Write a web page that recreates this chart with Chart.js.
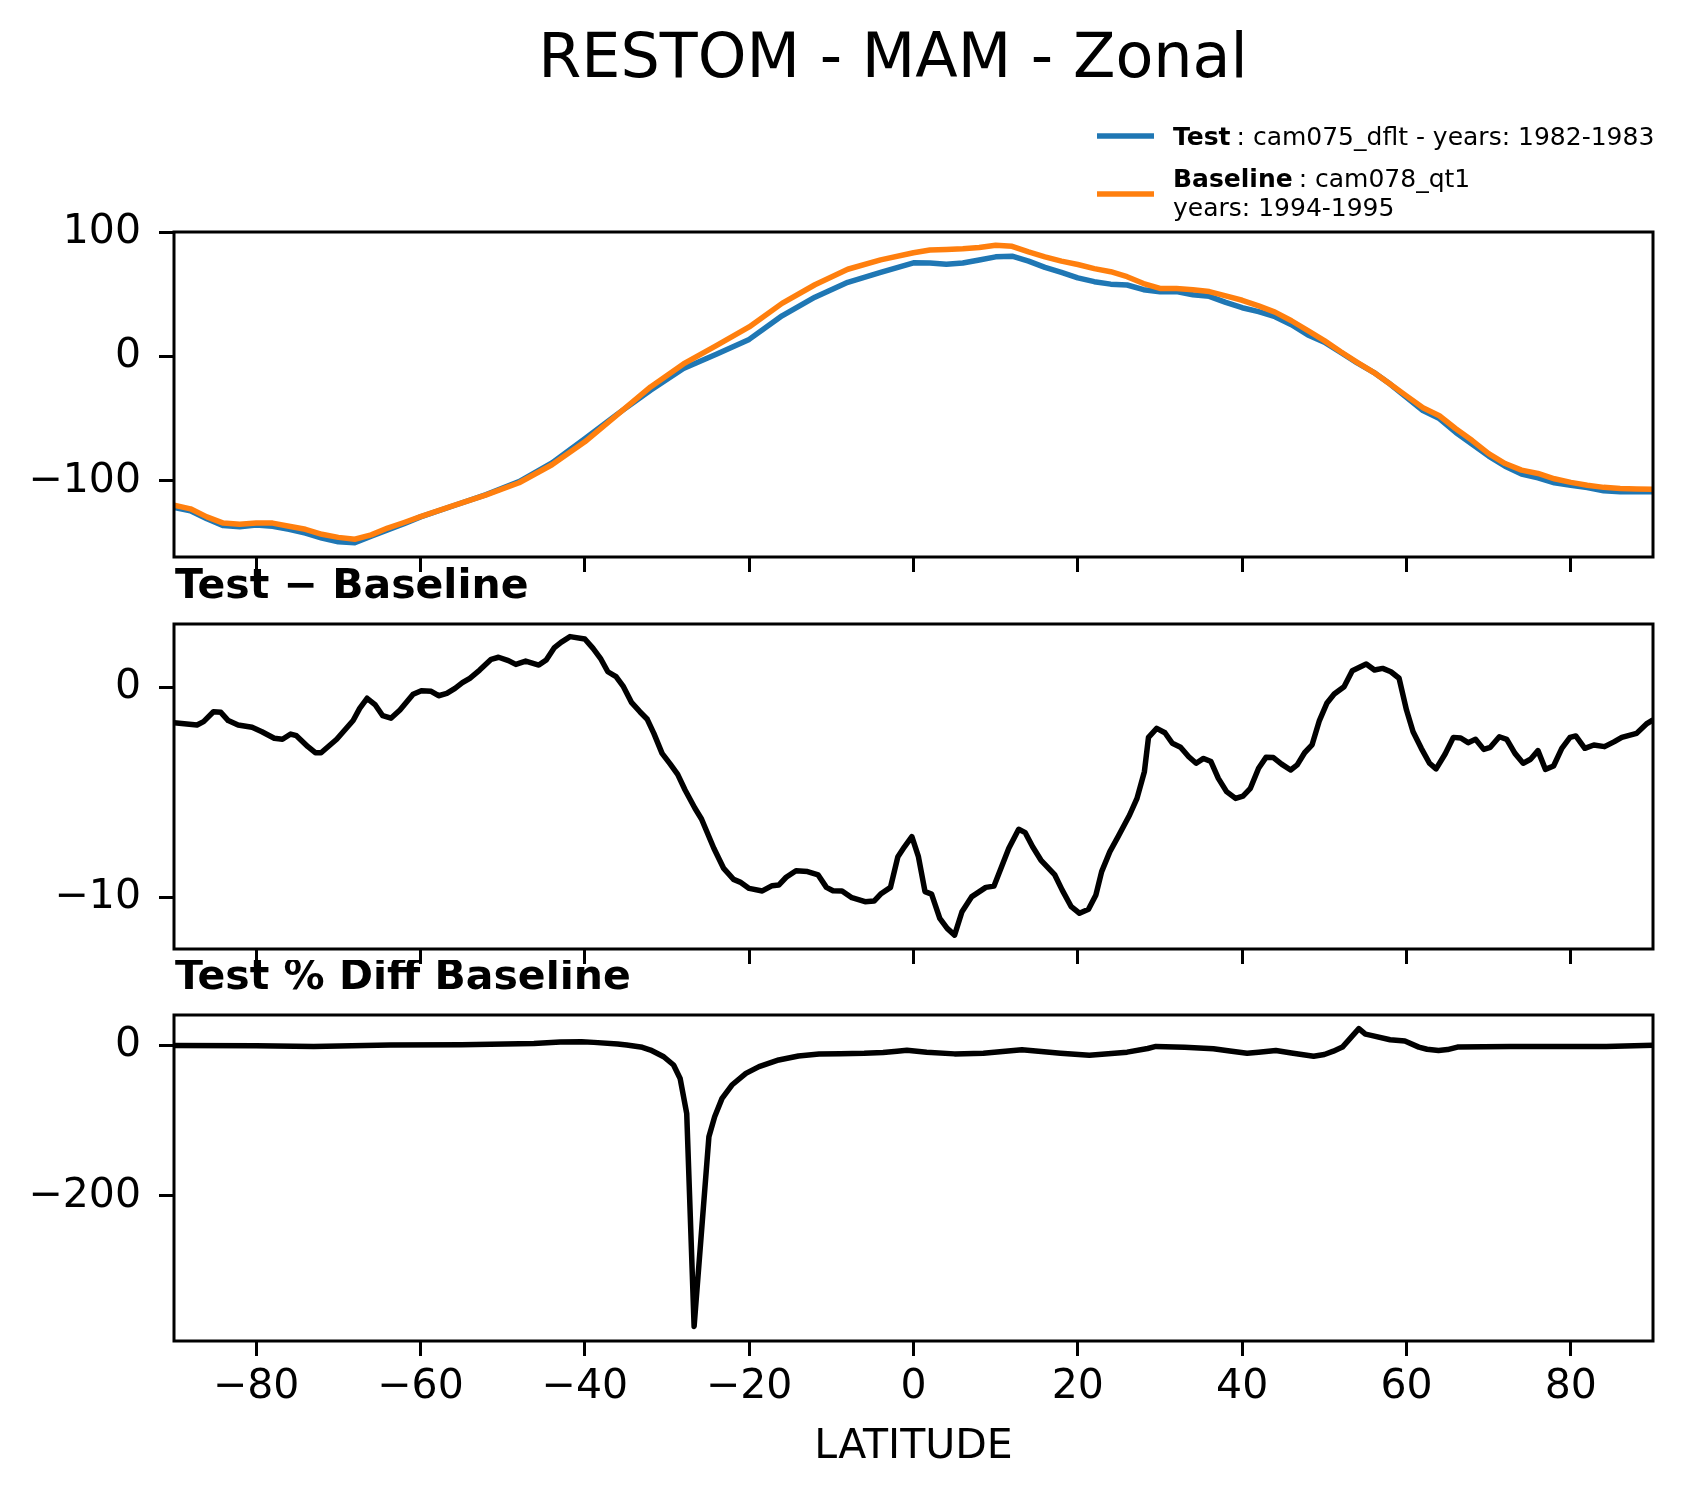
<!DOCTYPE html>
<html>
<head>
<meta charset="utf-8">
<script src="https://cdn.jsdelivr.net/npm/chart.js@4.4.1/dist/chart.umd.min.js"></script>
<style>
  body { margin: 0; background: #fff; }
  #page { position: relative; width: 1691px; height: 1496px; background: #fff; overflow: hidden; }
  canvas { position: absolute; left: 0; }
</style>
</head>
<body>
<div id="page">
  <canvas id="zonal" width="1691" height="610" style="top:0px"></canvas>
  <canvas id="diff" width="1691" height="440" style="top:560px"></canvas>
  <canvas id="pct" width="1691" height="536" style="top:960px"></canvas>
</div>
<script>
// top panel: zonal means (W/m2)
const latTop = [-90, -88, -86, -84, -82, -80, -78, -76, -74, -72, -70, -68, -66, -64, -62, -60, -56, -52, -48, -44,
  -40, -36, -32, -28, -24, -20, -16, -12, -8, -4, 0, 2, 4, 6, 8, 10, 12, 14, 16, 18,
  20, 22, 24, 26, 28, 30, 32, 34, 36, 38, 40, 42, 44, 46, 48, 50, 52, 54, 56, 58,
  60, 62, 64, 66, 68, 70, 72, 74, 76, 78, 80, 82, 84, 86, 88, 90];
const testVals = [-121.3, -124, -130.5, -136, -137, -135.5, -136.5, -139, -142, -146, -149, -149.8, -144.5, -139.5, -134.5, -129, -120, -111, -100.5, -85.5,
  -66, -46, -27, -9.5, 2, 14, 33, 48, 60, 68, 75.7, 75.5, 74.5, 75.5, 78, 80.5, 81, 77, 72, 68,
  63.5, 60.5, 58.5, 57.8, 54, 52.3, 52.5, 50, 48.7, 43.8, 39.5, 36.3, 32.3, 25.8, 17.5, 11.8, 3.5, -5, -12.5, -22,
  -32.7, -43.3, -49.8, -61, -70.4, -80, -88.2, -94.5, -97.6, -101.5, -103.5, -105.3, -108, -108.7, -108.7, -108.7];
const baseVals = [-119.5, -122.5, -129, -134, -135, -134, -134, -136.5, -139, -143, -145.5, -147, -143.5, -138, -133.5, -128.8, -120, -111.3, -101.5, -87,
  -68.5, -46.5, -24.3, -5.8, 9, 24, 43, 58, 70.5, 78, 83.8, 86, 86.5, 87, 88, 89.9, 89, 84.5, 80.5, 77,
  74.3, 71, 68.5, 64.5, 59, 55, 55, 54, 52.5, 49, 45.5, 41, 36, 29, 21, 13, 4, -4.5, -12.5, -22,
  -31.5, -41, -47.5, -58, -67.5, -78, -86, -91.3, -94, -98.3, -101.2, -103.5, -105.2, -106.2, -106.5, -106.8];

// middle panel: test - baseline
const latDiff = [-90, -87.2, -86.4, -85.2, -84.3, -83.4, -82.2, -80.5, -79.3, -77.8, -76.8, -75.8, -75.1, -73.7, -72.8, -72.1, -70.2, -68.2, -67.4, -66.5,
  -65.5, -64.6, -63.6, -62.5, -60.9, -59.9, -58.7, -57.8, -56.8, -55.8, -54.9, -54, -52.8, -51.4, -50.5, -49.3, -48.4, -47.2, -45.6, -44.7,
  -43.7, -42.9, -41.8, -40, -39, -38.1, -37.2, -36.2, -35.3, -34.3, -33.3, -32.4, -31.6, -30.6, -29.6, -28.7, -27.8, -26.6, -25.8, -24.3,
  -23.1, -21.9, -21.1, -20, -18.4, -17.2, -16.4, -15.5, -14.3, -12.9, -11.6, -10.6, -9.8, -8.7, -7.5, -5.9, -4.8, -4, -2.8, -1.9,
  -1.1, -0.2, 0.6, 1.4, 2.2, 3.2, 4.1, 5, 5.9, 7.1, 8.8, 9.8, 11.6, 12.8, 13.6, 14.5, 15.5, 17.2, 18.1, 19.2,
  20.2, 21.3, 22.2, 22.9, 23.9, 24.9, 26.3, 27.2, 28.1, 28.6, 29.6, 30.6, 31.5, 32.5, 33.5, 34.4, 35.3, 36.2, 37.1, 38.1,
  39.2, 40.1, 41, 42, 42.9, 43.8, 44.8, 45.9, 46.7, 47.6, 48.5, 49.4, 50.3, 51.2, 52.4, 53.4, 55.1, 56.1, 57.1, 58.1,
  59.1, 60, 60.8, 61.8, 62.8, 63.6, 64.7, 65.7, 66.6, 67.5, 68.4, 69.4, 70.2, 71.3, 72.2, 73.2, 74.2, 75.1, 76, 76.9,
  77.9, 78.9, 79.9, 80.6, 81.7, 82.8, 84.1, 85.3, 86.2, 88, 89.2, 90];
const diffVals = [-1.68, -1.79, -1.63, -1.16, -1.19, -1.58, -1.79, -1.9, -2.11, -2.42, -2.47, -2.22, -2.3, -2.82, -3.11, -3.11, -2.47, -1.58, -1, -0.52,
  -0.84, -1.35, -1.47, -1.08, -0.33, -0.16, -0.19, -0.4, -0.29, -0.05, 0.22, 0.43, 0.82, 1.33, 1.43, 1.27, 1.09, 1.25, 1.06, 1.3,
  1.89, 2.14, 2.41, 2.3, 1.85, 1.38, 0.74, 0.51, 0.03, -0.73, -1.16, -1.52, -2.19, -3.14, -3.65, -4.14, -4.88, -5.75, -6.26, -7.65,
  -8.61, -9.13, -9.26, -9.56, -9.68, -9.43, -9.4, -9.03, -8.72, -8.76, -8.92, -9.51, -9.67, -9.68, -10, -10.19, -10.16, -9.83, -9.51, -8.05,
  -7.58, -7.1, -8.05, -9.71, -9.83, -10.98, -11.46, -11.78, -10.67, -9.95, -9.51, -9.45, -7.65, -6.75, -6.91, -7.58, -8.21, -8.92, -9.64, -10.43,
  -10.74, -10.55, -9.87, -8.76, -7.81, -7.1, -6.07, -5.28, -4.01, -2.38, -1.95, -2.16, -2.66, -2.85, -3.3, -3.61, -3.38, -3.53, -4.33, -4.96,
  -5.28, -5.17, -4.8, -3.85, -3.33, -3.34, -3.65, -3.93, -3.69, -3.11, -2.74, -1.58, -0.76, -0.32, 0.03, 0.79, 1.11, 0.82, 0.9, 0.74,
  0.43, -1.08, -2.11, -2.9, -3.61, -3.88, -3.17, -2.38, -2.41, -2.63, -2.47, -2.95, -2.85, -2.35, -2.47, -3.14, -3.61, -3.42, -3.01, -3.9,
  -3.74, -2.9, -2.38, -2.31, -2.9, -2.74, -2.82, -2.58, -2.38, -2.19, -1.74, -1.55];

// bottom panel: percent difference
const latPct = [-90, -80, -73, -63.7, -55, -46.2, -43, -40.4, -38.9, -36, -34.9, -33, -32, -30.4, -29.2, -28.4, -27.6, -26.7, -24.9, -24.2,
  -23.3, -22.1, -20.4, -18.8, -16.4, -14, -11.5, -8.9, -6, -3.7, -2, -0.8, 1.6, 5, 8.5, 13.2, 17.9, 21.4, 26, 28.5,
  29.5, 33, 36.5, 38.5, 40.6, 42, 44.1, 46, 48.7, 50, 51.1, 52.2, 53.2, 54.2, 55, 55.7, 58, 59.8, 61.5, 62.5,
  63.9, 65, 66.2, 72.6, 78.4, 84.3, 90];
const pctVals = [0, -0.5, -1.3, 0.5, 0.8, 2.5, 4.5, 4.9, 4.1, 2, 0.6, -2.5, -6.1, -15, -26, -43.9, -90.4, -373.6, -121.5, -94.8,
  -70.4, -52.6, -37.1, -28.2, -19.3, -14, -11.4, -11, -10.5, -9.5, -7.8, -6.5, -8.9, -11.2, -10.3, -5.8, -10.3, -12.9, -8.9, -4,
  -1.3, -2.5, -4.5, -7.5, -10.3, -9, -6.7, -10, -14.3, -12, -7.6, -2.2, 10, 22.3, 15, 13.4, 7.6, 5.8, -2.2, -5,
  -6.7, -5.5, -2.2, -1.3, -1.3, -1.3, 0.3];

const xTicks = [-80, -60, -40, -20, 0, 20, 40, 60, 80];
const yTicksTop = [-100, 0, 100];
const yTicksDiff = [-10, 0];
const yTicksPct = [-200, 0];

const FONT = "'DejaVu Sans', sans-serif";
const W = 1691;
const PLOT_LEFT = 174, PLOT_RIGHT = 1653;

function pts(xs, ys) {
  return xs.map((x, i) => ({ x: x, y: ys[i] }));
}

function fmt(v) {
  return String(v).replace("-", "\u2212");
}

// frame round the plot area (matplotlib style box)
const boxPlugin = {
  id: "box",
  afterDraw(chart) {
    const a = chart.chartArea;
    const ctx = chart.ctx;
    ctx.save();
    ctx.strokeStyle = "#000";
    ctx.lineWidth = 3;
    ctx.strokeRect(a.left, a.top, a.right - a.left, a.bottom - a.top);
    ctx.restore();
  },
};

// free text drawn at page positions
function textPlugin(id, top, items) {
  return {
    id: id,
    afterDraw(chart) {
      const ctx = chart.ctx;
      ctx.save();
      ctx.fillStyle = "#000";
      ctx.textBaseline = "alphabetic";
      items.forEach((it) => {
        if (it.line) {
          ctx.strokeStyle = it.line;
          ctx.lineWidth = 5.5;
          ctx.beginPath();
          ctx.moveTo(it.x1, it.y - top);
          ctx.lineTo(it.x2, it.y - top);
          ctx.stroke();
          return;
        }
        let x = it.x;
        ctx.textAlign = it.align || "left";
        it.parts.forEach((p) => {
          ctx.font = (p.bold ? "bold " : "") + it.size + "px " + FONT;
          ctx.fillText(p.t, x, it.y - top);
          x += ctx.measureText(p.t).width + (p.gap || 0);
        });
      });
      ctx.restore();
    },
  };
}

function makeChart(id, top, datasets, yMin, yMax, yTicks, showX, xHeight, extra) {
  const padTop = { zonal: 232, diff: 624, pct: 1015 }[id] - top;
  return new Chart(document.getElementById(id), {
    type: "line",
    data: { datasets: datasets },
    options: {
      responsive: false,
      animation: false,
      devicePixelRatio: 1,
      layout: { padding: { top: padTop, right: W - PLOT_RIGHT, bottom: 0, left: 0 } },
      plugins: { legend: { display: false }, tooltip: { enabled: false } },
      elements: { point: { radius: 0 }, line: { tension: 0, borderJoinStyle: "round", borderCapStyle: "butt" } },
      scales: {
        x: {
          type: "linear",
          min: -90,
          max: 90,
          afterBuildTicks: (s) => { s.ticks = xTicks.map((v) => ({ value: v })); },
          afterFit: (s) => { s.height = xHeight; },
          border: { display: false },
          grid: { display: true, drawOnChartArea: false, drawTicks: true, tickLength: 15, tickWidth: 3, tickColor: "#000" },
          ticks: { display: showX, padding: 7, color: "#000", font: { family: FONT, size: 41 }, maxRotation: 0, callback: fmt },
        },
        y: {
          type: "linear",
          min: yMin,
          max: yMax,
          afterBuildTicks: (s) => { s.ticks = yTicks.map((v) => ({ value: v })); },
          afterFit: (s) => { s.width = PLOT_LEFT; },
          border: { display: false },
          grid: { display: true, drawOnChartArea: false, drawTicks: true, tickLength: 15, tickWidth: 3, tickColor: "#000" },
          ticks: { padding: 18, color: "#000", font: { family: FONT, size: 41 }, callback: fmt },
        },
      },
    },
    plugins: [boxPlugin].concat(extra),
  });
}

// top panel (canvas 0..610, plot 232..557)
makeChart("zonal", 0, [
  { label: "Test", data: pts(latTop, testVals), borderColor: "#1f77b4", borderWidth: 5.5, order: 1 },
  { label: "Baseline", data: pts(latTop, baseVals), borderColor: "#ff7f0e", borderWidth: 5.5, order: 0 },
], -161.3, 100.5, yTicksTop, false, 53, [
  textPlugin("titles", 0, [
    { x: 893, y: 77, size: 62, align: "center", parts: [{ t: "RESTOM - MAM - Zonal" }] },
    { line: "#1f77b4", x1: 1097, x2: 1154, y: 136 },
    { x: 1173, y: 145, size: 25, parts: [{ t: "Test", bold: true, gap: 6 }, { t: ": cam075_dflt - years: 1982-1983" }] },
    { line: "#ff7f0e", x1: 1097, x2: 1154, y: 194 },
    { x: 1173, y: 187, size: 25, parts: [{ t: "Baseline", bold: true, gap: 6 }, { t: ": cam078_qt1" }] },
    { x: 1173, y: 216, size: 25, parts: [{ t: "years: 1994-1995" }] },
  ]),
]);

// middle panel (canvas 560..1000, plot 624..949)
makeChart("diff", 560, [
  { label: "Test - Baseline", data: pts(latDiff, diffVals), borderColor: "#000", borderWidth: 5.5 },
], -12.44, 3.01, yTicksDiff, false, 51, [
  textPlugin("sub1", 560, [
    { x: 175, y: 598, size: 41, parts: [{ t: "Test \u2212 Baseline", bold: true }] },
  ]),
]);

// bottom panel (canvas 960..1496, plot 1015..1341)
makeChart("pct", 960, [
  { label: "Test % Diff Baseline", data: pts(latPct, pctVals), borderColor: "#000", borderWidth: 5.5 },
], -393, 40.5, yTicksPct, true, 155, [
  textPlugin("sub2", 960, [
    { x: 175, y: 989, size: 41, parts: [{ t: "Test % Diff Baseline", bold: true }] },
    { x: 913.5, y: 1458, size: 41, align: "center", parts: [{ t: "LATITUDE" }] },
  ]),
]);
</script>
</body>
</html>
